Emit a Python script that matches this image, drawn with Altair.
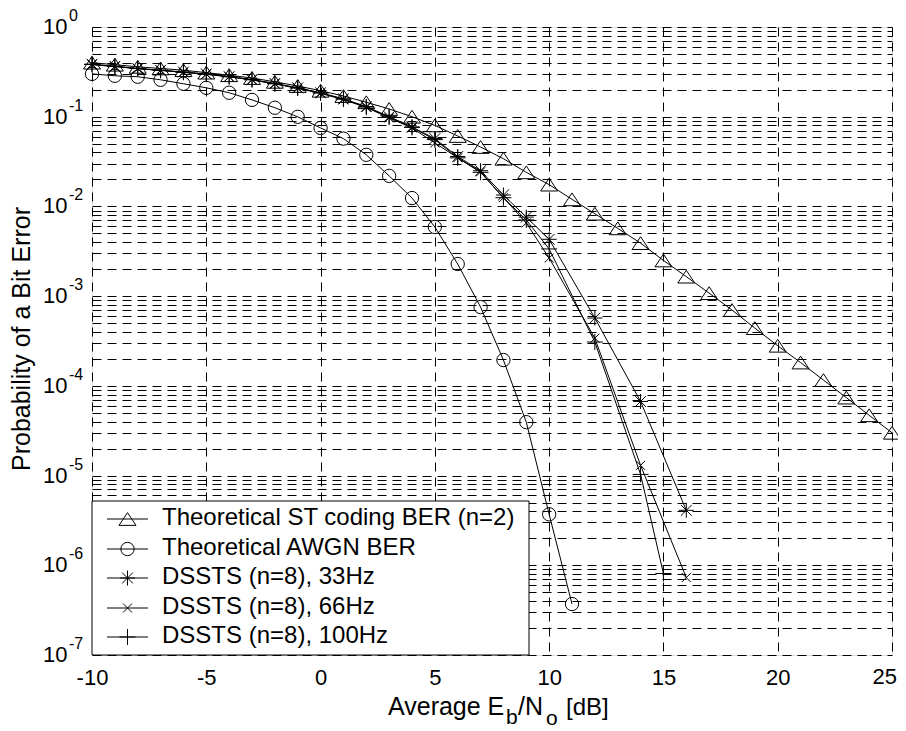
import altair as alt
import pandas as pd

# ---------------- data ----------------
series_names = [
    "Theoretical ST coding BER (n=2)",
    "Theoretical AWGN BER",
    "DSSTS (n=8), 33Hz",
    "DSSTS (n=8), 66Hz",
    "DSSTS (n=8), 100Hz",
]

snr_st = [-10, -9, -8, -7, -6, -5, -4, -3, -2, -1, 0, 1, 2, 3, 4, 5, 6, 7, 8, 9, 10,
          11, 12, 13, 14, 15, 16, 17, 18, 19, 20, 21, 22, 23, 24, 25]
ber_st = [0.40, 0.38, 0.36, 0.345, 0.33, 0.31, 0.29, 0.27, 0.245, 0.22, 0.195, 0.17,
          0.145, 0.122, 0.100, 0.080, 0.061, 0.046, 0.034, 0.024, 0.0175, 0.0120,
          0.0083, 0.0057, 0.0039, 0.0025, 0.00165, 0.00108, 0.00070, 0.00044,
          0.00028, 0.000182, 0.000116, 0.000074, 0.000047, 0.000030]

snr_awgn = [-10, -9, -8, -7, -6, -5, -4, -3, -2, -1, 0, 1, 2, 3, 4, 5, 6, 7, 8, 9, 10, 11]
ber_awgn = [0.30, 0.286, 0.279, 0.258, 0.233, 0.210, 0.185, 0.154, 0.126, 0.0997,
            0.075, 0.057, 0.0376, 0.0219, 0.0124, 0.0059, 0.00228, 0.000755,
            0.000194, 0.0000394, 0.0000037, 0.00000037]

snr_33 = [-10, -9, -8, -7, -6, -5, -4, -3, -2, -1, 0, 1, 2, 3, 4, 5, 6, 7, 8, 9, 10, 12, 14, 16]
ber_33 = [0.385, 0.365, 0.345, 0.33, 0.315, 0.30, 0.28, 0.26, 0.235, 0.21, 0.185,
          0.158, 0.130, 0.100, 0.077, 0.057, 0.036, 0.025, 0.0134, 0.0076, 0.0043,
          0.00057, 0.000067, 0.0000041]

snr_66 = [-10, -9, -8, -7, -6, -5, -4, -3, -2, -1, 0, 1, 2, 3, 4, 5, 6, 7, 8, 9, 10, 12, 14, 16]
ber_66 = [0.38, 0.362, 0.343, 0.328, 0.312, 0.297, 0.278, 0.257, 0.232, 0.207, 0.182,
          0.155, 0.127, 0.097, 0.075, 0.051, 0.0348, 0.0243, 0.0125, 0.00655, 0.00266,
          0.00034, 0.000013, 0.00000073]

snr_100 = [-10, -9, -8, -7, -6, -5, -4, -3, -2, -1, 0, 1, 2, 3, 4, 5, 6, 7, 8, 9, 10, 12, 14, 15]
ber_100 = [0.383, 0.364, 0.344, 0.329, 0.313, 0.298, 0.279, 0.258, 0.233, 0.209, 0.184,
           0.157, 0.128, 0.099, 0.076, 0.0555, 0.0348, 0.0240, 0.0125, 0.00707, 0.00336,
           0.000308, 0.0000103, 0.00000081]

x_ticks = [-10, -5, 0, 5, 10, 15, 20, 25]
y_exponents = [0, -1, -2, -3, -4, -5, -6, -7]

# ---------------- styling ----------------
FONT = "Liberation Sans"
TRI = "M0,-0.75L1,0.75L-1,0.75Z"
AST = "M-1,0H1M0,-1V1M-0.72,-0.72L0.72,0.72M-0.72,0.72L0.72,-0.72"
XM = "M-1,-1L1,1M-1,1L1,-1"
PLUS = "M-1,0H1M0,-1V1"
shapes = [TRI, "circle", AST, XM, PLUS]
sizes = [289, 177, 225, 81, 256]

series_data = [
    (snr_st, ber_st),
    (snr_awgn, ber_awgn),
    (snr_33, ber_33),
    (snr_66, ber_66),
    (snr_100, ber_100),
]

frames = []
for name, (xs, ys) in zip(series_names, series_data):
    frames.append(pd.DataFrame({"snr": xs, "ber": ys, "series": name}))
df = pd.concat(frames, ignore_index=True)

W, H = 800, 628
LAST_X = x_ticks[-1]

xscale = alt.Scale(domain=[-10, 25], nice=False, zero=False)
yscale = alt.Scale(type="log", domain=[1e-7, 1], nice=False)

grid_vals = [m * 10.0 ** k for k in range(-7, 0) for m in range(1, 10)] + [1.0]

lines = alt.Chart(df).mark_line(color="black", strokeWidth=1).encode(
    x=alt.X("snr:Q", scale=xscale,
            axis=alt.Axis(values=x_ticks, grid=True, gridDash=[9, 6], gridColor="#000",
                          gridWidth=1, ticks=False, domain=False, labelFontSize=22,
                          labelColor="black", labelPadding=12, title=None,
                          labelFlush=False, labelOverlap=False, labelFont=FONT,
                          labelExpr=f"datum.value == {LAST_X} ? '' : datum.value + ''")),
    y=alt.Y("ber:Q", scale=yscale,
            axis=alt.Axis(values=grid_vals, grid=True, gridDash=[9, 6], gridColor="#000",
                          gridWidth=1, ticks=False, domain=False, labels=False,
                          title=None)),
    detail="series:N",
)

layers = [lines]
for name, shp, sz, (xs, ys) in zip(series_names, shapes, sizes, series_data):
    d = pd.DataFrame({"snr": xs, "ber": ys})
    layers.append(
        alt.Chart(d).mark_point(shape=shp, size=sz, filled=False, color="black",
                                strokeWidth=1, opacity=1).encode(
            x=alt.X("snr:Q", scale=xscale), y=alt.Y("ber:Q", scale=yscale))
    )

# last x tick label, kept inside the page
layers.append(
    alt.Chart(pd.DataFrame({"v": [LAST_X]})).mark_text(
        align="right", baseline="top", fontSize=22, dx=5, font=FONT, color="black").encode(
        x=alt.X("v:Q", scale=xscale), y=alt.value(H + 12), text=alt.Text("v:Q"))
)

# y tick labels as 10 with a raised exponent
ylab = pd.DataFrame({"val": [10.0 ** e for e in y_exponents],
                     "exp": [str(e) for e in y_exponents]})
layers.append(
    alt.Chart(ylab).mark_text(text="10", align="left", baseline="middle", fontSize=22,
                              font=FONT, color="black").encode(
        x=alt.value(-49), y=alt.Y("val:Q", scale=yscale))
)
layers.append(
    alt.Chart(ylab).mark_text(align="left", baseline="middle", fontSize=16, dy=-11,
                              font=FONT, color="black").encode(
        x=alt.value(-23), y=alt.Y("val:Q", scale=yscale), text="exp:N")
)

one = pd.DataFrame({"k": [0]})

# y axis title
layers.append(
    alt.Chart(one).mark_text(text="Probability of a Bit Error", angle=270, align="center",
                             baseline="middle", fontSize=25, font=FONT, color="black").encode(
        x=alt.value(-70), y=alt.value(H / 2 - 2))
)

# x axis title with subscripts
xt_parts = [("Average E", 296, 25, 688), ("b", 414, 21, 697), ("/N", 426, 25, 688),
            ("o", 454, 21, 698), ("[dB]", 474, 24, 688)]
for txt, px, fs, py in xt_parts:
    layers.append(
        alt.Chart(one).mark_text(text=txt, align="left", baseline="alphabetic", fontSize=fs,
                                 font=FONT, color="black").encode(
            x=alt.value(px), y=alt.value(py))
    )

# legend box
layers.append(
    alt.Chart(one).mark_rect(fill="white", stroke="black", strokeWidth=1).encode(
        x=alt.value(0), x2=alt.value(437), y=alt.value(474), y2=alt.value(H))
)
row_y = [492, 522, 551, 581, 610]
for name, shp, sz, ry in zip(series_names, shapes, sizes, row_y):
    layers.append(
        alt.Chart(one).mark_rule(color="black", strokeWidth=1).encode(
            x=alt.value(15), x2=alt.value(56), y=alt.value(ry))
    )
    layers.append(
        alt.Chart(one).mark_point(shape=shp, size=sz, filled=False, color="black",
                                  strokeWidth=1, opacity=1).encode(
            x=alt.value(35.5), y=alt.value(ry))
    )
    layers.append(
        alt.Chart(one).mark_text(text=name, align="left", baseline="middle", fontSize=24,
                                 font=FONT, color="black").encode(
            x=alt.value(70), y=alt.value(ry - 1))
    )

chart = alt.layer(*layers).properties(
    width=W, height=H,
    autosize=alt.AutoSizeParams(type="none"),
    padding={"left": 84, "top": 19, "right": 6, "bottom": 76},
    background="white",
).configure_view(stroke="black", strokeWidth=1.2).configure(font=FONT)

chart.save("out.html", embed_options={"renderer": "svg", "actions": False})
